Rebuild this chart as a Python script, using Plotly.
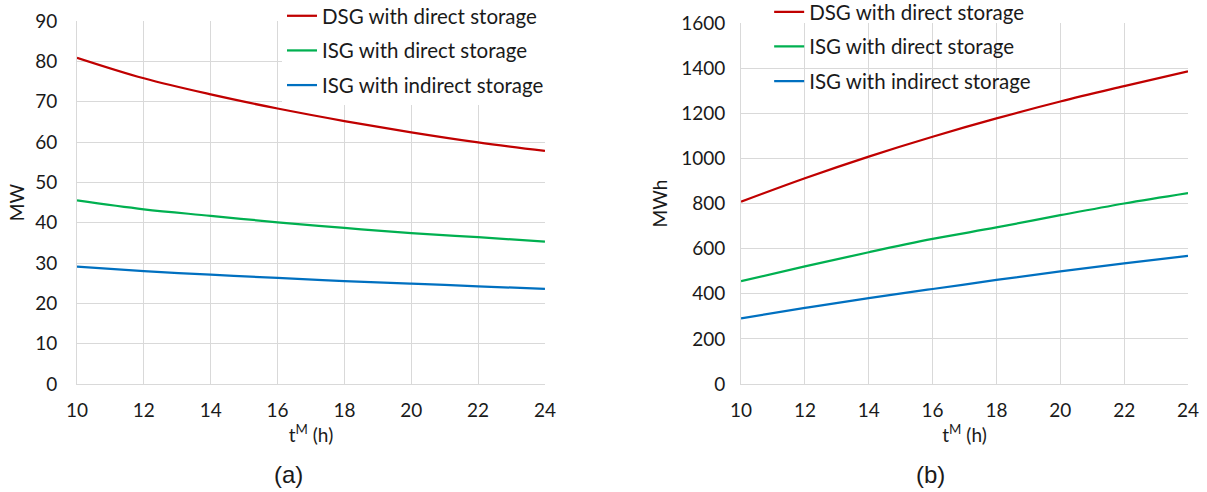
import plotly.graph_objects as go

# ---- data ----
t_hours = [10, 12, 14, 16, 18, 20, 22, 24]
series_names = ["DSG with direct storage", "ISG with direct storage", "ISG with indirect storage"]
series_colors = ["#C00000", "#00B050", "#0070C0"]

power_dsg_direct = [80.9, 75.8, 71.8, 68.3, 65.2, 62.4, 59.9, 57.8]
power_isg_direct = [45.5, 43.3, 41.7, 40.1, 38.7, 37.4, 36.4, 35.3]
power_isg_indirect = [29.1, 28.0, 27.1, 26.3, 25.5, 24.9, 24.2, 23.6]

energy_dsg_direct = [808, 912, 1008, 1096, 1177, 1252, 1320, 1386]
energy_isg_direct = [456, 521, 584, 643, 694, 748, 800, 846]
energy_isg_indirect = [291, 337, 381, 421, 461, 499, 535, 568]

x_ticks = [10, 12, 14, 16, 18, 20, 22, 24]

FONT = "Lato"
GRID = "#d9d9d9"
TXT = "#1a1a1a"

fig = go.Figure()

power = [power_dsg_direct, power_isg_direct, power_isg_indirect]
energy = [energy_dsg_direct, energy_isg_direct, energy_isg_indirect]

for i in range(3):
    fig.add_trace(go.Scatter(
        x=t_hours, y=power[i], name=series_names[i], mode="lines",
        line=dict(color=series_colors[i], width=2.25, shape="spline"),
        xaxis="x", yaxis="y", legend="legend", legendgroup="a%d" % i))
for i in range(3):
    fig.add_trace(go.Scatter(
        x=t_hours, y=energy[i], name=series_names[i], mode="lines",
        line=dict(color=series_colors[i], width=2.25, shape="spline"),
        xaxis="x2", yaxis="y2", legend="legend2", legendgroup="b%d" % i))

axis_common = dict(showgrid=True, gridcolor=GRID, gridwidth=1, showline=True,
                   linecolor=GRID, linewidth=1, zeroline=False, ticks="",
                   tickfont=dict(family=FONT, size=19, color=TXT),
                   automargin=False)

fig.update_layout(
    width=1207, height=492,
    margin=dict(l=77, r=19, t=21, b=108, autoexpand=False),
    paper_bgcolor="white", plot_bgcolor="white",
    font=dict(family=FONT, size=19, color=TXT),
    xaxis=dict(domain=[0, 0.4212], range=[10, 24], tickvals=x_ticks,
               ticklabelstandoff=9,
               title=dict(text="t<sup>M</sup> (h)", standoff=8,
                          font=dict(family=FONT, size=19, color=TXT)),
               anchor="y", **axis_common),
    yaxis=dict(domain=[0, 1], range=[0, 90], dtick=10, ticklabelstandoff=15,
               title=dict(text="MW", standoff=5, font=dict(family=FONT, size=19, color=TXT)),
               anchor="x", **axis_common),
    xaxis2=dict(domain=[0.5977, 1], range=[10, 24], tickvals=x_ticks,
                ticklabelstandoff=9,
                title=dict(text="t<sup>M</sup> (h)", standoff=8,
                           font=dict(family=FONT, size=19, color=TXT)),
                anchor="y2", **axis_common),
    yaxis2=dict(domain=[0, 0.9945], range=[0, 1600], dtick=200, ticklabelstandoff=11,
                title=dict(text="MWh", standoff=8, font=dict(family=FONT, size=19, color=TXT)),
                anchor="x2", **axis_common),
    legend=dict(x=0.1845, xanchor="left", y=1.069, yanchor="top",
                bgcolor="white", borderwidth=0, tracegroupgap=5,
                font=dict(family=FONT, size=20.5, color=TXT)),
    legend2=dict(x=0.623, xanchor="left", y=1.08, yanchor="top",
                 bgcolor="rgba(255,255,255,0)", borderwidth=0, tracegroupgap=5,
                 font=dict(family=FONT, size=20.5, color=TXT)),
    annotations=[
        dict(text="(a)", x=0.190, y=-0.249, xref="paper", yref="paper",
             xanchor="center", yanchor="middle", showarrow=False,
             font=dict(family="Liberation Sans", size=24, color=TXT)),
        dict(text="(b)", x=0.768, y=-0.249, xref="paper", yref="paper",
             xanchor="center", yanchor="middle", showarrow=False,
             font=dict(family="Liberation Sans", size=24, color=TXT)),
    ],
)

fig.write_html("out.html", config={"displayModeBar": False},
               post_script="document.body.style.margin='0px';")
